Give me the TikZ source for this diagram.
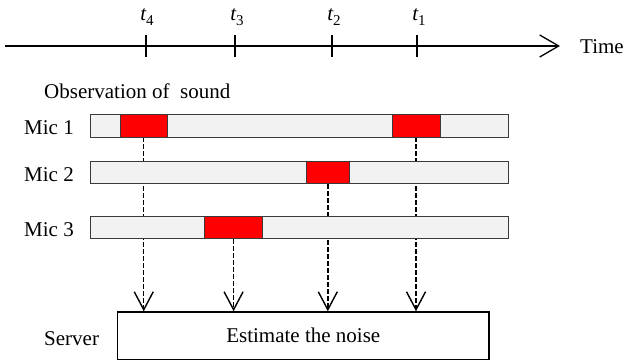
\documentclass[tikz,border=0pt]{standalone}
\usepackage{fontspec}
\setmainfont{Liberation Serif}
\usetikzlibrary{arrows.meta,backgrounds}
\definecolor{barfill}{HTML}{F2F2F2}
\definecolor{barline}{HTML}{3A3A3A}
\newcommand{\tlab}[1]{{\fontsize{21}{24}\selectfont\itshape t}\raisebox{-4.5pt}{\fontsize{15}{15}\selectfont #1}}
\begin{document}
\begin{tikzpicture}[x=1pt,y=-1pt,
  lbl/.style={font=\fontsize{21}{24}\selectfont, inner sep=0pt},
  tlbl/.style={inner sep=0pt, anchor=base},
  bar/.style={draw=barline, fill=barfill, line width=0.9pt, minimum height=22.7pt, minimum width=417.6pt, inner sep=0pt},
  hit/.style={draw=barline, fill=red, line width=0.9pt, minimum height=22.7pt, inner sep=0pt},
  flow/.style={dash pattern=on 4.5pt off 2.5pt, line width=1.4pt, -{Straight Barb[length=18pt,width=19pt,line width=1.4pt]}},
  ticks/.style={line width=1.3pt},
  srvbox/.style={draw=black, line width=1.5pt, minimum width=371.5pt, minimum height=47.5pt, inner sep=0pt, font=\fontsize{21}{24}\selectfont}]
\useasboundingbox (0,0) rectangle (627,361);

% time axis
\coordinate (a0) at (5,46);
\coordinate (a1) at (560,46);
\draw[line width=1.3pt, -{Straight Barb[length=19pt,width=22pt,line width=1.3pt]}] (a0) -- (a1);
\node[lbl, anchor=base west] (time) at (580,54) {Time};
\draw[ticks] (146,35) -- (146,57);
\draw[ticks] (235,35) -- (235,57);
\draw[ticks] (332,35) -- (332,57);
\draw[line width=2pt] (416.5,35) -- (416.5,57);
\node[tlbl] (t4) at (147,21) {\tlab{4}};
\node[tlbl] (t3) at (237,21) {\tlab{3}};
\node[tlbl] (t2) at (334,21) {\tlab{2}};
\node[tlbl] (t1) at (419,21) {\tlab{1}};

% observation
\node[lbl, anchor=base west] (obs) at (44,99) {Observation of\ \ sound};

\node[bar] (m1) at (299.2,125.65) {};
\node[bar] (m2) at (299.2,172.5) {};
\node[bar] (m3) at (299.2,227.5) {};
\node[hit, minimum width=47.5pt] (r11) at (143.75,125.65) {};
\node[hit, minimum width=48pt] (r12) at (416,125.65) {};
\node[hit, minimum width=43pt] (r2) at (327.8,172.5) {};
\node[hit, minimum width=58.5pt] (r3) at (233.6,227.5) {};

\node[lbl, anchor=base] (l1) at (49,135) {Mic 1};
\node[lbl, anchor=base] (l2) at (49,181.5) {Mic 2};
\node[lbl, anchor=base] (l3) at (49,236.5) {Mic 3};

% server
\node[srvbox] (srv) at (303.25,335.75) {Estimate the noise};
\node[lbl, anchor=base west] (server) at (44,345) {Server};

\begin{scope}[on background layer]
\draw[flow] (r11.south) -- (r11.south |- srv.north);
\draw[flow] (r3.south) -- (r3.south |- srv.north);
\draw[flow] (r2.south) -- (r2.south |- srv.north);
\draw[flow] (r12.south) -- (r12.south |- srv.north);
\end{scope}
\end{tikzpicture}
\end{document}
